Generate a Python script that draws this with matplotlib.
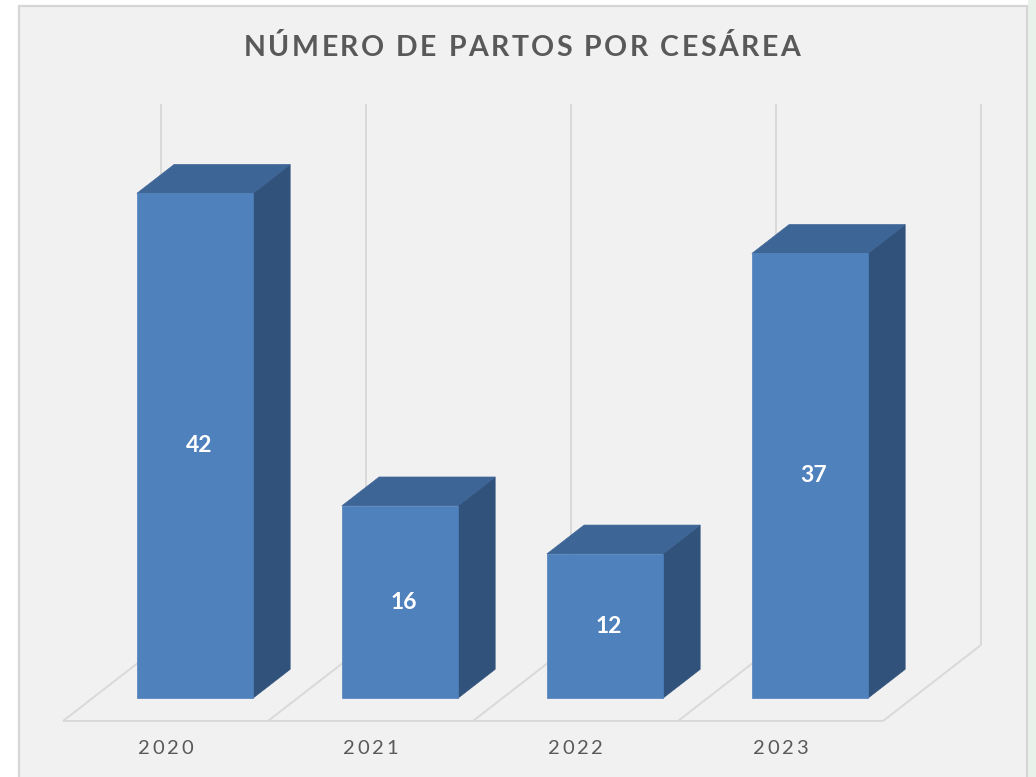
import matplotlib
matplotlib.use("Agg")
import matplotlib.pyplot as plt
from matplotlib.patches import Polygon, Rectangle
from matplotlib import transforms

# datos
anos = ["2020", "2021", "2022", "2023"]
cesareas = [42, 16, 12, 37]
titulo = "NÚMERO DE PARTOS POR CESÁREA"
eje_max = 45

W, H = 1036, 777
fig = plt.figure(figsize=(W / 100, H / 100), dpi=100)
fig.patch.set_facecolor("white")
plt.rcParams["font.family"] = ["Lato", "DejaVu Sans"]

# fondo del grafico
fig.add_artist(Rectangle((1028 / W, 0), 8 / W, 1, transform=fig.transFigure,
                         facecolor="#e8f2ea", edgecolor="none", zorder=0))
fig.add_artist(Rectangle((19 / W, -0.01), (1027 - 19) / W, (777 - 6) / H + 0.01,
                         transform=fig.transFigure, facecolor="#f1f1f1",
                         edgecolor="#d6d6d6", lw=1.6, zorder=0))

ax = fig.add_axes([0, 0, 1, 1])
ax.axis("off")
ax.patch.set_alpha(0)

# escala: 205 px por categoria, ~12 px por unidad
px_cat, px_val = 205, 12.02
x_org, y_org = 165.5, 721
ax.set_xlim(-x_org / px_cat, (W - x_org) / px_cat)
ax.set_ylim(-(H - y_org) / px_val, y_org / px_val)

DX, DY = 98 / px_cat, 76 / px_val
z0, z1, hw = 0.30, 0.68, 0.283


def proj(x, v, z):
    return (x + z * DX, v + z * DY)


grid_kw = dict(color="#d9d9d9", lw=1.4, zorder=1, solid_capstyle="butt")
n = len(anos)
# piso y pared
a, b = proj(-0.5, 0, 0), proj(n - 0.5, 0, 0)
ax.plot([a[0], b[0]], [a[1], b[1]], **grid_kw)
for k in range(n + 1):
    bx = k - 0.5
    p, q = proj(bx, 0, 0), proj(bx, 0, 1)
    ax.plot([p[0], q[0]], [p[1], q[1]], **grid_kw)
    r = proj(bx, eje_max, 1)
    ax.plot([q[0], r[0]], [q[1], r[1]], **grid_kw)

c_front, c_top, c_side = "#4f81bd", "#3d6596", "#31527b"
for i, v in enumerate(cesareas):
    x0, x1 = i - hw, i + hw
    front = [proj(x0, 0, z0), proj(x1, 0, z0), proj(x1, v, z0), proj(x0, v, z0)]
    side = [proj(x1, 0, z0), proj(x1, 0, z1), proj(x1, v, z1), proj(x1, v, z0)]
    top = [proj(x0, v, z0), proj(x1, v, z0), proj(x1, v, z1), proj(x0, v, z1)]
    for pts, c in [(side, c_side), (top, c_top), (front, c_front)]:
        ax.add_patch(Polygon(pts, closed=True, facecolor=c, edgecolor=c, lw=0.5, zorder=3))
    lx, ly = proj(i, v / 2, z0)
    ax.text(lx + 0.02, ly, str(v), ha="center", va="center", color="white",
            fontsize=16.5, fontweight="bold", zorder=5)


def spaced(x, y, s, spacing, transform, **kw):
    r = fig.canvas.get_renderer()
    widths = []
    for ch in s:
        if ch == " ":
            t1 = fig.text(0, 0, "a a", **kw)
            t2 = fig.text(0, 0, "aa", **kw)
            w = t1.get_window_extent(renderer=r).width - t2.get_window_extent(renderer=r).width
            t1.remove()
            t2.remove()
        else:
            t = fig.text(0, 0, ch, **kw)
            w = t.get_window_extent(renderer=r).width
            t.remove()
        widths.append(w)
    total = sum(widths) + spacing * (len(s) - 1)
    cur = -total / 2
    for ch, w in zip(s, widths):
        tr = transforms.offset_copy(transform, fig=fig, x=cur + w / 2, y=0, units="dots")
        ax.text(x, y, ch, transform=tr, ha="center", va="center", **kw)
        cur += w + spacing


for i, an in enumerate(anos):
    spaced(i, (y_org - 748) / px_val, an, 2.5, ax.transData,
           color="#595959", fontsize=14.5)

spaced(522 / W, 1 - 48 / H, titulo, 2.5, fig.transFigure,
       color="#595959", fontsize=20.5, fontweight="bold")

fig.savefig("out.png", dpi=100)
